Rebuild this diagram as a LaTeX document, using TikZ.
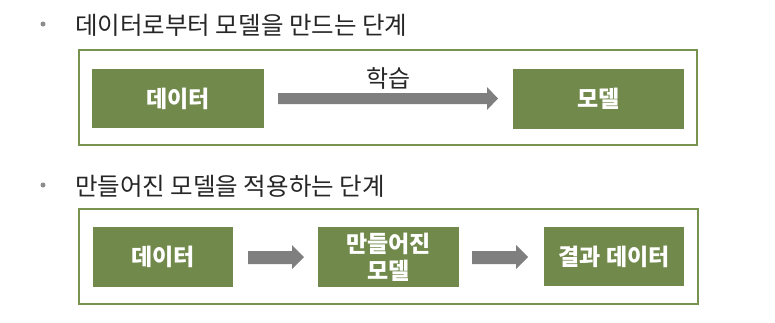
\documentclass[tikz,border=0pt]{standalone}
\usepackage{fontspec}
\setmainfont{Noto Sans CJK KR}
\newfontfamily\kr{Noto Sans CJK KR}
\definecolor{boxgreen}{HTML}{71894B}
\definecolor{framegreen}{HTML}{77934F}
\definecolor{arrowgray}{HTML}{7F7F7F}
\definecolor{bulletgray}{HTML}{8C8C8C}
\tikzset{
  frame/.style={draw=framegreen, line width=2.6pt},
  gbox/.style={fill=boxgreen, draw=none, text=white, font=\kr\bfseries\fontsize{23}{27}\selectfont, align=center, inner sep=0pt},
  heading/.style={anchor=west, inner sep=0pt, font=\kr\fontsize{24.5}{27}\selectfont, text=black!85},
  bdot/.style={circle, fill=bulletgray, inner sep=0pt, minimum size=5pt},
  garrow/.style={fill=arrowgray, draw=none}
}
\begin{document}
\begin{tikzpicture}[x=1pt,y=-1pt]
\useasboundingbox (0,0) rectangle (775,322);
% headings
\node[bdot] (d1) at (43,24) {};
\node[heading] (h1) at (75,25) {데이터로부터 모델을 만드는 단계};
\node[bdot] (d2) at (43,185) {};
\node[heading] (h2) at (75,186) {만들어진 모델을 적용하는 단계};
% top frame
\draw[frame] (79,50) rectangle (697,145);
\node[gbox, minimum width=172pt, minimum height=59pt] (data1) at (178,98.5) {데이터};
\node[gbox, minimum width=171pt, minimum height=60pt] (model1) at (598.5,99) {모델};
\fill[garrow] (278,93) -- (487,93) -- (487,87) -- (498,98.5) -- (487,110) -- (487,104) -- (278,104) -- cycle;
\node[font=\kr\fontsize{24}{26}\selectfont, text=black!85, inner sep=0pt] (lbl) at (388.5,78) {학습};
% bottom frame
\draw[frame] (79,209) rectangle (698,304);
\node[gbox, minimum width=140pt, minimum height=60pt] (data2) at (163,257) {데이터};
\node[gbox, minimum width=141pt, minimum height=60pt] (model2) at (388.5,257) {만들어진\\모델};
\node[gbox, minimum width=140pt, minimum height=59pt] (result) at (614,256.5) {결과 데이터};
\fill[garrow] (248,251) -- (292,251) -- (292,245) -- (304,257) -- (292,269) -- (292,264) -- (248,264) -- cycle;
\fill[garrow] (472,251) -- (516,251) -- (516,245) -- (528,257) -- (516,269) -- (516,264) -- (472,264) -- cycle;
\end{tikzpicture}
\end{document}
